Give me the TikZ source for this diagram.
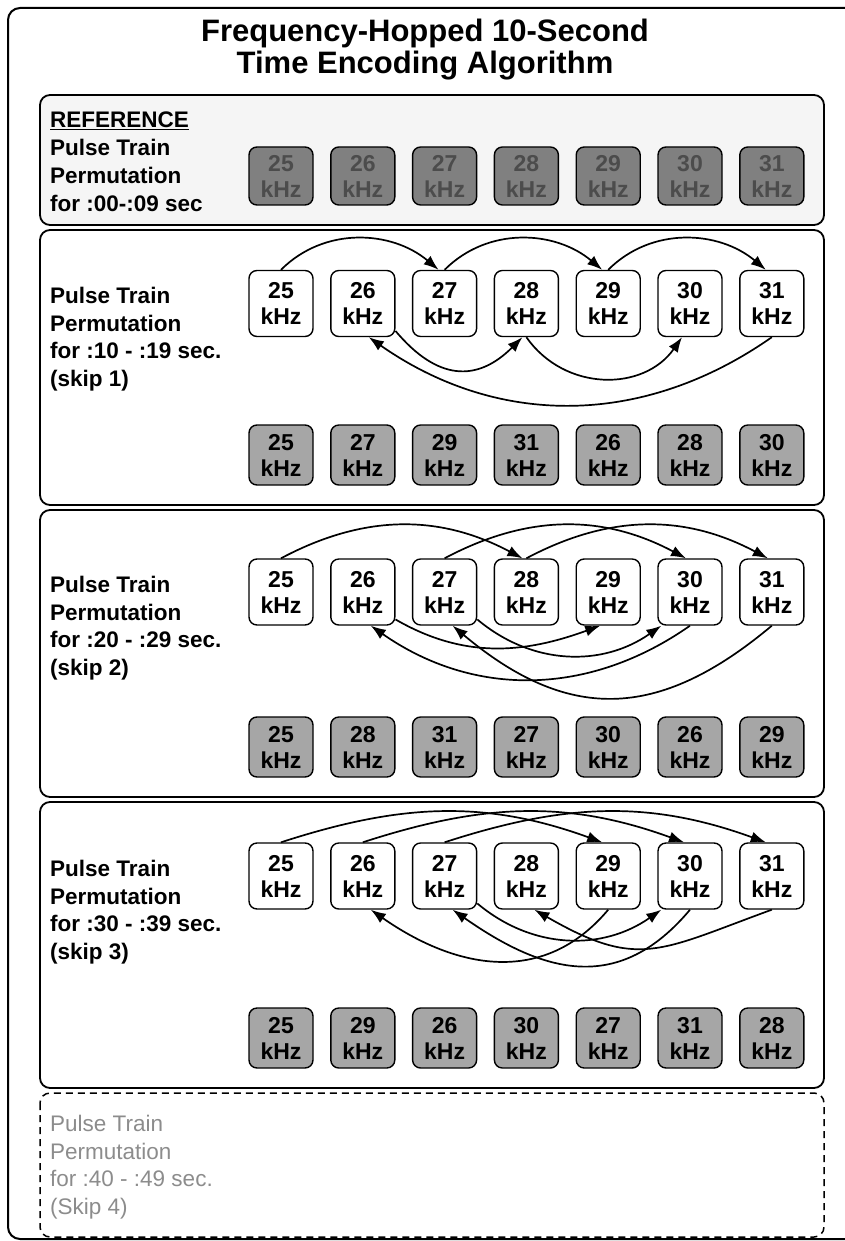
\documentclass[tikz,border=0pt]{standalone}
\usepackage{fontspec}
\setmainfont{Liberation Sans}
\usetikzlibrary{arrows.meta, positioning}

\tikzset{
  panel/.style={draw, line width=1.8pt, rounded corners=10pt},
  freq/.style={draw, line width=1.4pt, rounded corners=8pt, fill=white,
    minimum width=64pt, minimum height=66pt, inner sep=0pt, align=center,
    font=\bfseries\fontsize{23}{26}\selectfont},
  hopped/.style={freq, fill=black!35, minimum height=60pt},
  reffreq/.style={hopped, fill=black!50, text=black!70, minimum height=58pt},
  permtext/.style={anchor=west, align=left, inner sep=0pt,
    font=\bfseries\fontsize{22.5}{27.5}\selectfont},
  hop/.style={line width=1.7pt, arrows={-Latex[length=15pt, width=11pt]}},
}

\begin{document}
\begin{tikzpicture}[x=1pt, y=1pt]
    \useasboundingbox (0,0) rectangle (844,-1241);

    % Frame and title
    \draw[line width=2pt, rounded corners=12pt] (880,-8) -- (8,-8) -- (8,-1239) -- (880,-1239);
    \node[font=\bfseries\fontsize{31}{32}\selectfont, align=center] (title) at (425,-50)
        {Frequency-Hopped 10-Second\\Time Encoding Algorithm};

    % Panels
    \draw[panel, fill=black!4] (40,-95) rectangle (824,-225);
    \draw[panel] (40,-230) rectangle (824,-505);
    \draw[panel] (40,-510) rectangle (824,-797);
    \draw[panel] (40,-802) rectangle (824,-1088);
    \draw[panel, line width=1.5pt, dash pattern=on 7pt off 5pt] (40,-1093) rectangle (824,-1237);

    % Panel texts
    \node[permtext, font=\bfseries\fontsize{22.5}{28}\selectfont] (reftext) at (50,-162)
        {\underline{REFERENCE}\\Pulse Train\\Permutation\\for :00-:09 sec};
    \node[permtext] (skiptext1) at (50,-339) {Pulse Train\\Permutation\\for :10 - :19 sec.\\(skip 1)};
    \node[permtext] (skiptext2) at (50,-628) {Pulse Train\\Permutation\\for :20 - :29 sec.\\(skip 2)};
    \node[permtext] (skiptext3) at (50,-912) {Pulse Train\\Permutation\\for :30 - :39 sec.\\(skip 3)};
    \node[permtext, font=\fontsize{22.5}{27.5}\selectfont, text=black!45] (skiptext4) at (50,-1167)
        {Pulse Train\\Permutation\\for :40 - :49 sec.\\(Skip 4)};

    % Frequency boxes in natural order
    \foreach \f [count=\i from 0] in {25,...,31} {
        \node[reffreq] (ref\f) at (281+81.8*\i,-176) {\f\\kHz};
        \node[freq] (s1f\f) at (281+81.8*\i,-303.5) {\f\\kHz};
        \node[freq] (s2f\f) at (281+81.8*\i,-592) {\f\\kHz};
        \node[freq] (s3f\f) at (281+81.8*\i,-876) {\f\\kHz};
    }

    % Hopped order
    \foreach \f [count=\i from 0] in {25,27,29,31,26,28,30}
        \node[hopped] (o1p\i) at (281+81.8*\i,-455) {\f\\kHz};
    \foreach \f [count=\i from 0] in {25,28,31,27,30,26,29}
        \node[hopped] (o2p\i) at (281+81.8*\i,-747) {\f\\kHz};
    \foreach \f [count=\i from 0] in {25,29,26,30,27,31,28}
        \node[hopped] (o3p\i) at (281+81.8*\i,-1038) {\f\\kHz};

    % Skip 1 hops
    \draw[hop] (s1f25.north) to[out=45, in=140] ([xshift=-6pt]s1f27.north);
    \draw[hop] (s1f27.north) to[out=45, in=140] ([xshift=-6pt]s1f29.north);
    \draw[hop] (s1f29.north) to[out=45, in=140] ([xshift=-6pt]s1f31.north);
    \draw[hop] (s1f31.south) to[out=-145, in=-35] ([xshift=6pt]s1f26.south);
    \draw[hop] (s1f26.-40) to[out=-50, in=-135, looseness=1.3] ([xshift=-4pt]s1f28.south);
    \draw[hop] (s1f28.south) to[out=-55, in=-125, looseness=1.1] ([xshift=-8pt]s1f30.south);

    % Skip 2 hops
    \draw[hop] (s2f25.north) to[out=28, in=152] ([xshift=-4pt]s2f28.north);
    \draw[hop] (s2f27.north) to[out=28, in=152] ([xshift=-4pt]s2f30.north);
    \draw[hop] (s2f28.north) to[out=28, in=152] ([xshift=-4pt]s2f31.north);
    \draw[hop] (s2f31.south) to[out=-140, in=-40, looseness=1.2] ([xshift=8pt]s2f27.south);
    \draw[hop] (s2f30.south) to[out=-145, in=-35] ([xshift=8pt]s2f26.south);
    \draw[hop] (s2f26.-40) to[out=-30, in=-160] ([xshift=-8pt]s2f29.south);
    \draw[hop] (s2f27.-40) to[out=-40, in=-145] ([xshift=4pt]s2f30.south west);

    % Skip 3 hops
    \draw[hop] (s3f25.north) to[out=18, in=160] ([xshift=-6pt]s3f29.north);
    \draw[hop] (s3f26.north) to[out=18, in=160] ([xshift=-6pt]s3f30.north);
    \draw[hop] (s3f27.north) to[out=18, in=160] ([xshift=-6pt]s3f31.north);
    \draw[hop] (s3f29.south) to[out=-130, in=-35, looseness=1.1] ([xshift=8pt]s3f26.south);
    \draw[hop] (s3f30.south) to[out=-130, in=-35, looseness=1.2] ([xshift=8pt]s3f27.south);
    \draw[hop] (s3f31.south) to[out=-160, in=-30, looseness=1.3] ([xshift=8pt]s3f28.south);
    \draw[hop] (s3f27.-40) to[out=-40, in=-145] ([xshift=4pt]s3f30.south west);
\end{tikzpicture}
\end{document}
